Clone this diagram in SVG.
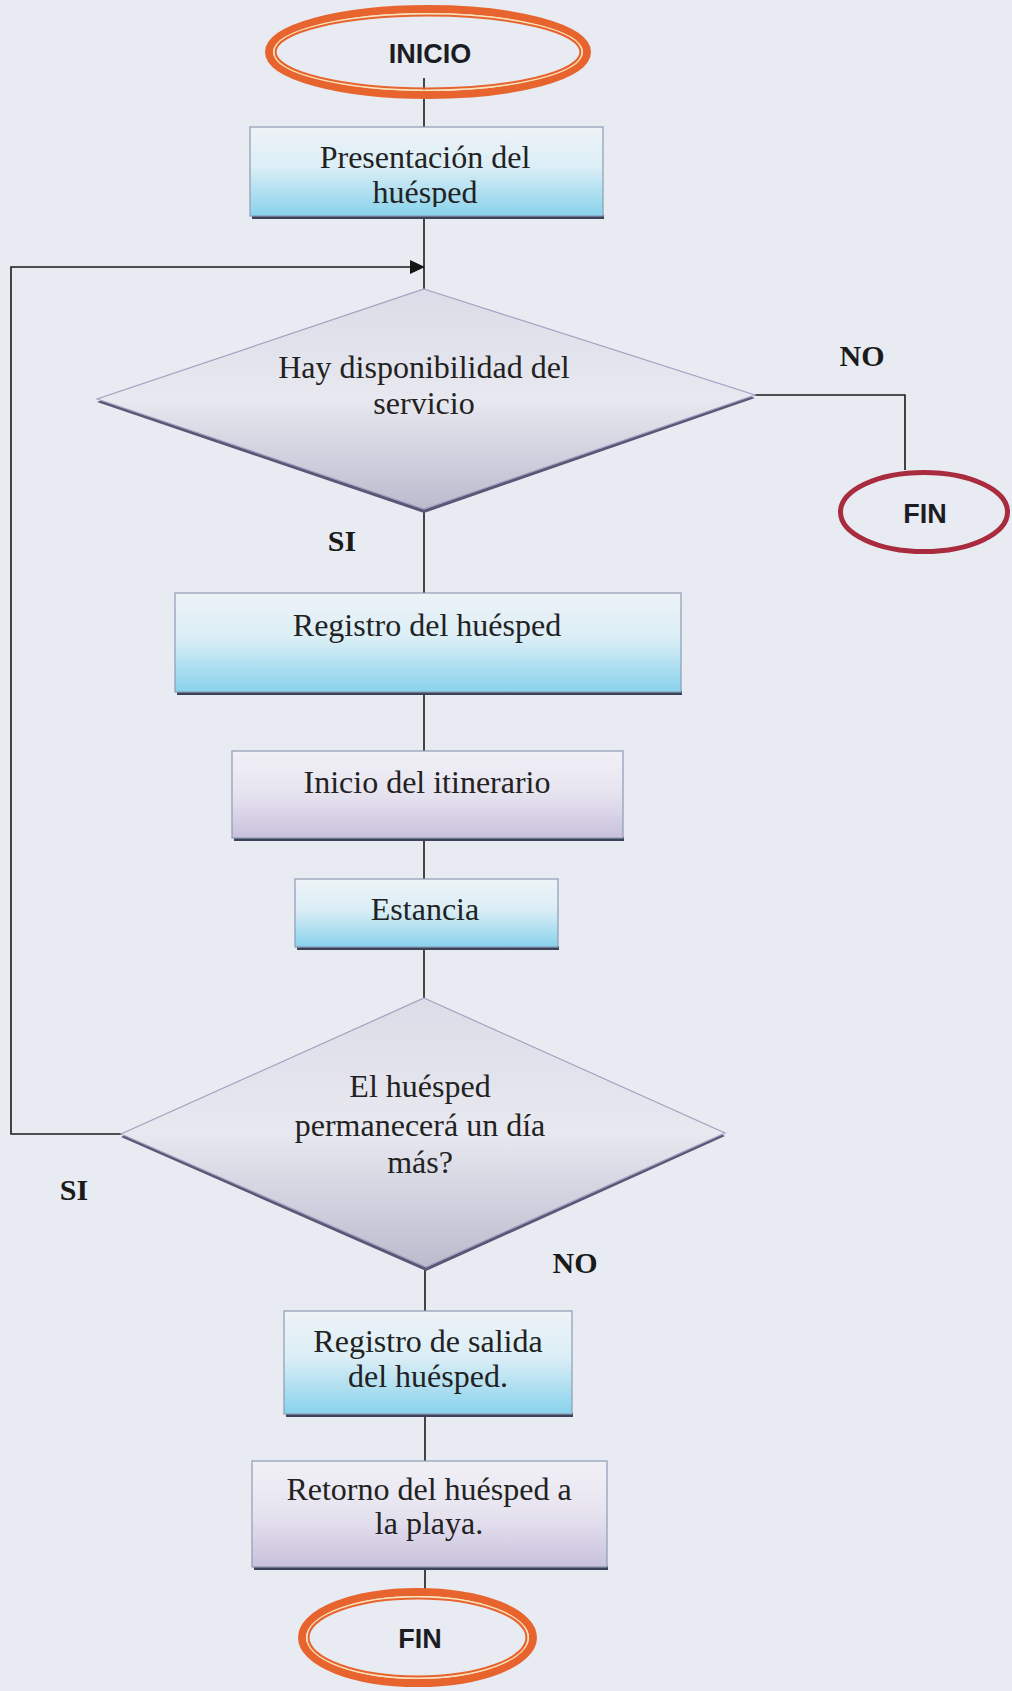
<svg xmlns="http://www.w3.org/2000/svg" width="1012" height="1691" viewBox="0 0 1012 1691">
<defs>
<linearGradient id="gCyan" x1="0" y1="0" x2="0" y2="1">
<stop offset="0" stop-color="#eef3f7"/>
<stop offset="0.45" stop-color="#dbeef6"/>
<stop offset="1" stop-color="#88d2ec"/>
</linearGradient>
<linearGradient id="gPurple" x1="0" y1="0" x2="0" y2="1">
<stop offset="0" stop-color="#f1f0f6"/>
<stop offset="0.5" stop-color="#e6e3ef"/>
<stop offset="1" stop-color="#c9c1dd"/>
</linearGradient>
<linearGradient id="gDiamond" x1="0" y1="0" x2="0" y2="1">
<stop offset="0" stop-color="#dcdce8"/>
<stop offset="0.5" stop-color="#e8e8f0"/>
<stop offset="1" stop-color="#bbbbce"/>
</linearGradient>
<marker id="arrow" viewBox="0 0 15 14" refX="14" refY="7" markerWidth="15" markerHeight="14" markerUnits="userSpaceOnUse" orient="auto">
<path d="M0,0 L15,7 L0,14 z" fill="#151515"/>
</marker>
<clipPath id="clipBox1"><rect x="240" y="120" width="380" height="87"/></clipPath>
<style>
.box{stroke:#8e9cb4;stroke-width:1.2}
.shadow{fill:#3c4258}
.lbl{font-family:"Liberation Serif","Times New Roman",serif;font-size:32px;fill:#222;text-anchor:middle}
.yn{font-family:"Liberation Serif","Times New Roman",serif;font-size:30px;font-weight:bold;fill:#1a1a1a;text-anchor:middle}
.term{font-family:"Liberation Sans",Arial,sans-serif;font-size:27px;font-weight:bold;fill:#1c1c24;text-anchor:middle}
.line{fill:none;stroke:#1a1a1a;stroke-width:1.6}
.diam{fill:url(#gDiamond);stroke:#a3a0c0;stroke-width:1.2}
.dshadow{fill:#5c5676}
.ovOut{fill:none;stroke:#e8642e;stroke-width:8}
.ovMid{fill:none;stroke:#fbe3b8;stroke-width:1.6}
.ovIn{fill:none;stroke:#e8642e;stroke-width:2}
</style>
</defs>
<rect x="0" y="0" width="1012" height="1691" fill="#e8ebf1"/>

<g id="connectors">
<path class="line" d="M424,78 V127"/>
<path class="line" d="M424,217 V289"/>
<path class="line" d="M121,1134 H11 V267 H424" marker-end="url(#arrow)"/>
<path class="line" d="M755,395 H905 V470"/>
<path class="line" d="M424,510 V593"/>
<path class="line" d="M424,694 V751"/>
<path class="line" d="M424,840 V879"/>
<path class="line" d="M424,949 V998"/>
<path class="line" d="M425,1268 V1311"/>
<path class="line" d="M425,1416 V1461"/>
<path class="line" d="M425,1569 V1590"/>
</g>

<g id="inicio">
<ellipse class="ovOut" cx="428" cy="52" rx="159" ry="43"/>
<ellipse class="ovMid" cx="428" cy="52" rx="154.2" ry="38.2"/>
<ellipse class="ovIn" cx="428" cy="52" rx="152.4" ry="36.4"/>
<text class="term" x="430" y="63">INICIO</text>
</g>

<g id="presentacion">
<rect class="shadow" x="252" y="215" width="352" height="4"/>
<rect class="box" x="250" y="127" width="353" height="89" fill="url(#gCyan)"/>
<text class="lbl" x="425" y="168">Presentación del</text>
<text class="lbl" x="425" y="203" clip-path="url(#clipBox1)">huésped</text>
</g>

<g id="disponibilidad">
<polygon class="dshadow" points="424,292 755,398 424,513 97,402"/>
<polygon class="diam" points="424,289 755,395 424,509 97,399"/>
<text class="lbl" x="424" y="378">Hay disponibilidad del</text>
<text class="lbl" x="424" y="414">servicio</text>
</g>

<g id="fin1">
<ellipse cx="924" cy="512" rx="83.5" ry="39.5" fill="none" stroke="#a82c3e" stroke-width="5"/>
<text class="term" x="925" y="523">FIN</text>
</g>

<g id="registro">
<rect class="shadow" x="177" y="691" width="505" height="4"/>
<rect class="box" x="175" y="593" width="506" height="99" fill="url(#gCyan)"/>
<text class="lbl" x="427" y="636">Registro del huésped</text>
</g>

<g id="itinerario">
<rect class="shadow" x="234" y="837" width="390" height="4"/>
<rect class="box" x="232" y="751" width="391" height="87" fill="url(#gPurple)"/>
<text class="lbl" x="427" y="793">Inicio del itinerario</text>
</g>

<g id="estancia">
<rect class="shadow" x="297" y="946" width="262" height="4"/>
<rect class="box" x="295" y="879" width="263" height="68" fill="url(#gCyan)"/>
<text class="lbl" x="425" y="920">Estancia</text>
</g>

<g id="permanecera">
<polygon class="dshadow" points="424,1001 725,1136 426,1271 121,1137"/>
<polygon class="diam" points="424,998 725,1133 426,1267 121,1134"/>
<text class="lbl" x="420" y="1097">El huésped</text>
<text class="lbl" x="420" y="1136">permanecerá un día</text>
<text class="lbl" x="420" y="1173">más?</text>
</g>

<g id="salida">
<rect class="shadow" x="286" y="1413" width="287" height="4"/>
<rect class="box" x="284" y="1311" width="288" height="103" fill="url(#gCyan)"/>
<text class="lbl" x="428" y="1352">Registro de salida</text>
<text class="lbl" x="428" y="1387">del huésped.</text>
</g>

<g id="retorno">
<rect class="shadow" x="254" y="1566" width="354" height="4"/>
<rect class="box" x="252" y="1461" width="355" height="106" fill="url(#gPurple)"/>
<text class="lbl" x="429" y="1500">Retorno del huésped a</text>
<text class="lbl" x="429" y="1534">la playa.</text>
</g>

<g id="fin2">
<ellipse class="ovOut" cx="417.5" cy="1637.5" rx="115.5" ry="45.5"/>
<ellipse class="ovMid" cx="417.5" cy="1637.5" rx="110.7" ry="40.7"/>
<ellipse class="ovIn" cx="417.5" cy="1637.5" rx="108.9" ry="38.9"/>
<text class="term" x="420" y="1648">FIN</text>
</g>

<g id="labels">
<text class="yn" x="862" y="366">NO</text>
<text class="yn" x="342" y="551">SI</text>
<text class="yn" x="74" y="1200">SI</text>
<text class="yn" x="575" y="1273">NO</text>
</g>
</svg>
